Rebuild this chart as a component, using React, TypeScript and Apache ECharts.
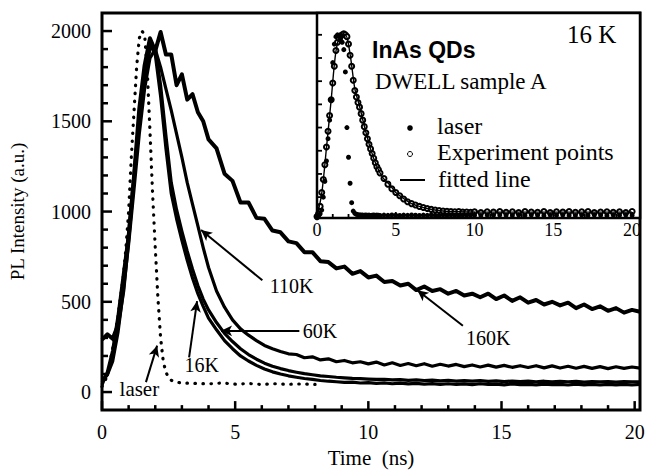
import { useEffect, useRef } from "react";
import * as echarts from "echarts";

// ---------- main panel data (time in ns, PL intensity in a.u.) ----------
const T_MAIN = [
  0, 0.2, 0.4, 0.6, 0.8, 1.0, 1.2, 1.4, 1.6, 1.8, 2.0, 2.2, 2.4, 2.6, 2.8, 3.0, 3.2, 3.4, 3.6, 3.8, 4.0,
  4.3, 4.6, 4.9, 5.2, 5.5, 5.8, 6.1, 6.4, 6.7, 7.0,
  7.3, 7.6, 7.9, 8.2, 8.5, 8.8, 9.1, 9.4, 9.7, 10.0,
  10.3, 10.6, 10.9, 11.2, 11.5, 11.8, 12.1, 12.4, 12.7, 13.0,
  13.3, 13.6, 13.9, 14.2, 14.5, 14.8, 15.1, 15.4, 15.7, 16.0,
  16.3, 16.6, 16.9, 17.2, 17.5, 17.8, 18.1, 18.4, 18.7, 19.0,
  19.3, 19.6, 19.9, 20.2,
];

const PL_16K = [
  40, 110, 230, 420, 650, 880, 1200, 1520, 1760, 1930, 1870, 1640, 1350, 1100, 960, 840, 730, 630, 545, 475, 410,
  345, 285, 240, 200, 172, 148, 128, 112, 100, 90,
  82, 75, 70, 64, 60, 57, 54, 55, 50, 52,
  48, 51, 46, 49, 45, 48, 44, 47, 43, 46,
  42, 45, 41, 46, 42, 44, 40, 45, 41, 43,
  40, 44, 41, 43, 39, 44, 40, 42, 39, 43,
  40, 43, 39, 42,
];

const PL_60K = [
  55, 95, 200, 390, 620, 860, 1170, 1490, 1740, 1900, 1910, 1700, 1420, 1160, 1010, 890, 780, 680, 590, 515, 455,
  385, 325, 280, 240, 208, 182, 160, 143, 130, 119,
  110, 102, 96, 90, 86, 82, 79, 76, 74, 72,
  70, 71, 67, 69, 65, 67, 64, 66, 62, 65,
  61, 63, 60, 63, 59, 62, 58, 61, 58, 60,
  57, 60, 56, 59, 57, 59, 55, 58, 56, 58,
  55, 58, 56, 57,
];

const PL_110K = [
  70, 95, 170, 330, 560, 820, 1120, 1430, 1680, 1850, 1900, 1800, 1680, 1560, 1430, 1300, 1160, 1040, 920, 800, 690,
  560, 470, 400, 350, 315, 285, 258, 240, 225, 212,
  208, 190, 195, 178, 184, 168, 175, 162, 168, 156,
  166, 150, 162, 147, 158, 146, 157, 143, 154, 144,
  153, 141, 150, 139, 149, 138, 148, 137, 146, 136,
  146, 134, 145, 133, 143, 132, 142, 131, 141, 130,
  140, 131, 139, 133,
];

const PL_160K = [
  290, 320, 295, 370, 560, 860, 1190, 1570, 1810, 1960, 1890, 1995, 1870, 1870, 1700, 1760, 1620, 1650, 1550, 1500, 1400,
  1350, 1210, 1170, 1050, 1050, 965, 960, 895, 885, 835,
  825, 775, 775, 725, 720, 685, 695, 655, 670, 635,
  645, 610, 615, 590, 600, 565, 585, 560, 570, 545,
  560, 535, 545, 525, 545, 515, 535, 505, 525, 495,
  510, 485, 500, 480, 495, 465, 485, 460, 475, 450,
  465, 440, 455, 445,
];

const T_LASER = [
  0, 0.2, 0.4, 0.6, 0.8, 0.9, 1.0, 1.1, 1.2, 1.3, 1.4, 1.5, 1.6, 1.7, 1.8, 1.9, 2.0, 2.1, 2.2, 2.3, 2.4, 2.5, 2.6,
  2.8, 3.0, 3.5, 4.0, 4.5, 5.0, 5.5, 6.0, 6.5, 7.0, 7.5, 8.0,
];
const PL_LASER = [
  30, 90, 240, 420, 640, 800, 1000, 1300, 1550, 1800, 1960, 2000, 1980, 1780, 1450, 1100, 800, 520, 300, 170, 110, 80, 65,
  55, 50, 48, 45, 50, 44, 47, 42, 46, 43, 45, 42,
];

// ---------- inset data (16 K, DWELL sample A) ----------
const T_INSET = [
  0, 0.1, 0.2, 0.3, 0.4, 0.5, 0.6, 0.7, 0.8, 0.9, 1.0, 1.1, 1.2, 1.3, 1.4, 1.5, 1.6, 1.7, 1.8, 1.9, 2.0,
  2.1, 2.2, 2.3, 2.4, 2.5, 2.6, 2.7, 2.8, 2.9, 3.0, 3.1, 3.2, 3.3, 3.4, 3.5, 3.6, 3.7, 3.8, 3.9, 4.0,
  4.25, 4.5, 4.75, 5.0, 5.25, 5.5, 5.75, 6.0, 6.25, 6.5, 6.75, 7.0, 7.25, 7.5, 7.75, 8.0,
  8.25, 8.5, 8.75, 9.0, 9.25, 9.5, 9.75, 10.0,
  10.4, 10.8, 11.2, 11.6, 12.0, 12.4, 12.8, 13.2, 13.6, 14.0, 14.4, 14.8, 15.2, 15.6, 16.0,
  16.4, 16.8, 17.2, 17.6, 18.0, 18.4, 18.8, 19.2, 19.6, 20.0,
];
const INSET_LASER = [
  40, 50, 70, 110, 250, 420, 640, 880, 1080, 1300, 1700, 1900, 1980, 2000, 1990, 1960, 1920, 1840, 1600, 1000, 680,
  400, 190, 100, 75, 65, 60, 58, 57, 56, 55, 57, 54, 56, 53, 55, 57, 54, 56, 55, 53,
  56, 54, 57, 55, 53, 56, 54, 57, 55, 53, 56, 54, 57, 55, 53, 56,
  54, 57, 55, 53, 56, 54, 57, 55,
  53, 56, 54, 57, 55, 53, 56, 54, 57, 55, 53, 56, 54, 57, 55,
  53, 56, 54, 57, 55, 53, 56, 54, 57, 55,
];
const INSET_EXP = [
  40, 70, 150, 300, 440, 600, 790, 960, 1130, 1300, 1480, 1660, 1830, 1920, 1960, 1990, 2000, 2010, 2000, 1980, 1900,
  1780, 1660, 1510, 1400, 1330, 1270, 1220, 1150, 1080, 1010, 944, 880, 820, 770, 720, 670, 620, 578, 545, 510,
  450, 390, 340, 300, 265, 230, 200, 180, 165, 150, 138, 128, 118, 112, 106, 100,
  98, 95, 92, 94, 88, 90, 86, 92,
  85, 93, 88, 95, 86, 91, 84, 94, 89, 87, 95, 85, 92, 88, 94,
  86, 91, 95, 84, 90, 93, 87, 92, 85, 96,
];
const T_FIT = [0, 0.3, 0.6, 0.9, 1.2, 1.5, 1.8, 2.1, 2.4, 2.7, 3.0, 3.4, 3.8, 4.2, 4.6, 5.0, 5.5, 6, 6.5, 7, 8, 9, 10, 12, 14, 16, 18, 20];
const INSET_FIT = [40, 290, 780, 1300, 1820, 1990, 2000, 1790, 1420, 1230, 1020, 770, 580, 455, 385, 300, 235, 180, 150, 128, 100, 92, 90, 88, 88, 88, 88, 88];

// ---------- axes ----------
const MAIN_X_TICKS = [0, 1, 2, 3, 4, 5, 6, 7, 8, 9, 10, 11, 12, 13, 14, 15, 16, 17, 18, 19, 20];
const MAIN_Y_TICKS = [0, 100, 200, 300, 400, 500, 600, 700, 800, 900, 1000, 1100, 1200, 1300, 1400, 1500, 1600, 1700, 1800, 1900, 2000];
const INSET_X_TICKS = MAIN_X_TICKS;
const INSET_Y_TICKS = [250, 500, 750, 1000, 1250, 1500, 1750, 2000];

// ---------- annotations ----------
const ANNOT_LABELS = [
  { text: "110K", at: [6.28, 586] },
  { text: "60K", at: [7.52, 339] },
  { text: "16K", at: [3.08, 150] },
  { text: "laser", at: [0.64, 18] },
  { text: "160K", at: [13.65, 301] },
];
const ANNOT_ARROWS = [
  { from: [6.02, 619], to: [3.72, 898] },
  { from: [7.41, 339], to: [4.47, 339] },
  { from: [3.27, 192], to: [3.57, 504] },
  { from: [1.65, 55], to: [2.07, 257] },
  { from: [13.55, 367], to: [11.84, 564] },
];

const SERIF = "Liberation Serif";
const SANS = "Liberation Sans";

const MAIN_X_MIN = 0, MAIN_X_MAX = 20.2, MAIN_Y_MIN = -100, MAIN_Y_MAX = 2100;
const INSET_X_MIN = 0, INSET_X_MAX = 20.5, INSET_Y_MIN = 25, INSET_Y_MAX = 2235;

const pairs = (t: number[], v: number[]) => t.map((x, i) => [x, v[i]]);

function tickSeries(xIdx: number, yIdx: number, data: number[][], vertical: boolean, major: number, minor: number, width: number) {
  return {
    type: "custom",
    xAxisIndex: xIdx,
    yAxisIndex: yIdx,
    silent: true,
    z: 5,
    data,
    renderItem: (_p: any, api: any) => {
      const p = api.coord([api.value(0), api.value(1)]);
      const len = api.value(2) ? major : minor;
      return {
        type: "line",
        shape: vertical
          ? { x1: p[0], y1: p[1], x2: p[0], y2: p[1] - len }
          : { x1: p[0], y1: p[1], x2: p[0] + len, y2: p[1] },
        style: { stroke: "#000", lineWidth: width },
      };
    },
  };
}

const isMultiple = (v: number, m: number) => Math.abs(v / m - Math.round(v / m)) < 1e-6;

function buildOption() {
  const solid = (name: string, v: number[], w: number) => ({
    name,
    type: "line",
    xAxisIndex: 0,
    yAxisIndex: 0,
    data: pairs(T_MAIN, v),
    showSymbol: false,
    symbol: "none",
    lineStyle: { color: "#000", width: w, join: "round" },
    z: 3,
  });

  return {
    animation: false,
    backgroundColor: "#fff",
    textStyle: { fontFamily: SERIF, color: "#000" },
    grid: [
      { left: 102, top: 13, width: 538, height: 402, show: true, borderColor: "#000", borderWidth: 3, backgroundColor: "transparent" },
      { left: 317, top: 13, width: 323, height: 205, show: true, borderColor: "#000", borderWidth: 2.5, backgroundColor: "#fff" },
    ],
    xAxis: [
      {
        gridIndex: 0, type: "value", min: MAIN_X_MIN, max: MAIN_X_MAX, interval: 1,
        axisLine: { show: false }, axisTick: { show: false }, splitLine: { show: false },
        axisLabel: {
          margin: 12, fontSize: 20, fontFamily: SERIF, color: "#000",
          formatter: (v: number) => (isMultiple(v, 5) && v <= 20 ? String(Math.round(v)) : ""),
        },
        name: "Time\u00a0\u00a0(ns)", nameLocation: "middle", nameGap: 34,
        nameTextStyle: { fontSize: 21, fontFamily: SERIF, color: "#000" },
      },
      {
        gridIndex: 1, type: "value", min: INSET_X_MIN, max: INSET_X_MAX, interval: 1,
        axisLine: { show: false }, axisTick: { show: false }, splitLine: { show: false },
        axisLabel: {
          margin: 3, fontSize: 18, fontFamily: SERIF, color: "#000",
          formatter: (v: number) => (isMultiple(v, 5) && v <= 20 ? String(Math.round(v)) : ""),
        },
      },
    ],
    yAxis: [
      {
        gridIndex: 0, type: "value", min: MAIN_Y_MIN, max: MAIN_Y_MAX, interval: 100,
        axisLine: { show: false }, axisTick: { show: false }, splitLine: { show: false },
        axisLabel: {
          margin: 11, fontSize: 20, fontFamily: SERIF, color: "#000",
          formatter: (v: number) => (v >= 0 && isMultiple(v, 500) ? String(Math.round(v)) : ""),
        },
        name: "PL Intensity (a.u.)", nameLocation: "middle", nameGap: 75,
        nameTextStyle: { fontSize: 19, fontFamily: SERIF, color: "#000" },
      },
      {
        gridIndex: 1, type: "value", min: INSET_Y_MIN, max: INSET_Y_MAX,
        axisLine: { show: false }, axisTick: { show: false }, splitLine: { show: false },
        axisLabel: { show: false },
      },
    ],
    series: [
      {
        name: "laser",
        type: "line",
        xAxisIndex: 0,
        yAxisIndex: 0,
        data: pairs(T_LASER, PL_LASER),
        showSymbol: false,
        symbol: "none",
        lineStyle: { color: "#000", width: 3.2, type: [0.5, 7.5], cap: "round" },
        z: 3,
      },
      solid("16K", PL_16K, 3.2),
      solid("60K", PL_60K, 3.2),
      solid("110K", PL_110K, 3.2),
      {
        ...solid("160K", PL_160K, 4),
        markLine: {
          silent: true,
          symbol: ["none", "arrow"],
          symbolSize: [8, 11],
          label: { show: false },
          lineStyle: { color: "#000", width: 2, type: "solid" },
          data: ANNOT_ARROWS.map((a) => [
            { coord: a.from, symbol: "none" },
            { coord: a.to, symbol: "arrow" },
          ]),
        },
        markPoint: {
          silent: true,
          symbol: "rect",
          symbolSize: 1,
          itemStyle: { color: "rgba(0,0,0,0)" },
          label: { show: true, position: "right", distance: 0, color: "#000", fontSize: 20, fontFamily: SERIF },
          data: ANNOT_LABELS.map((l) => ({
            coord: l.at,
            name: l.text,
            label: { formatter: l.text, fontSize: l.text === "laser" ? 21 : 20 },
          })),
        },
      },
      // inset
      {
        name: "Experiment points",
        type: "scatter",
        xAxisIndex: 1,
        yAxisIndex: 1,
        data: pairs(T_INSET, INSET_EXP),
        symbol: "emptyCircle",
        symbolSize: 5,
        itemStyle: { color: "#000", borderColor: "#000", borderWidth: 1, opacity: 1 },
        z: 3,
      },
      {
        name: "inset laser",
        type: "scatter",
        xAxisIndex: 1,
        yAxisIndex: 1,
        data: pairs(T_INSET, INSET_LASER),
        symbol: "circle",
        symbolSize: 5,
        itemStyle: { color: "#000", opacity: 1 },
        z: 3,
      },
      {
        name: "fitted line",
        type: "line",
        xAxisIndex: 1,
        yAxisIndex: 1,
        data: pairs(T_FIT, INSET_FIT),
        smooth: 0.3,
        showSymbol: false,
        symbol: "none",
        lineStyle: { color: "#000", width: 1.4 },
        z: 4,
      },
      tickSeries(0, 0, MAIN_X_TICKS.map((v) => [v, MAIN_Y_MIN, isMultiple(v, 5) ? 1 : 0]), true, 9, 5, 2.5),
      tickSeries(0, 0, MAIN_Y_TICKS.map((v) => [MAIN_X_MIN, v, isMultiple(v, 500) ? 1 : 0]), false, 10, 6, 2.5),
      tickSeries(1, 1, INSET_X_TICKS.map((v) => [v, INSET_Y_MIN, isMultiple(v, 5) ? 1 : 0]), true, 6, 4, 1.8),
      tickSeries(1, 1, INSET_Y_TICKS.map((v) => [INSET_X_MIN, v, 0]), false, 5, 5, 1.8),
    ],
    graphic: [
      { type: "text", left: 567, top: 22, z: 10, style: { text: "16 K", font: `25px ${SERIF}`, fill: "#000" } },
      { type: "text", left: 372, top: 38, z: 10, style: { text: "InAs QDs", font: `bold 23px ${SANS}`, fill: "#000" } },
      { type: "text", left: 375, top: 70, z: 10, style: { text: "DWELL sample A", font: `23px ${SERIF}`, fill: "#000" } },
      { type: "circle", z: 10, shape: { cx: 410, cy: 128, r: 2.8 }, style: { fill: "#000" } },
      { type: "text", left: 437, top: 114, z: 10, style: { text: "laser", font: `24px ${SERIF}`, fill: "#000" } },
      { type: "circle", z: 10, shape: { cx: 410, cy: 154, r: 2.5 }, style: { fill: "#fff", stroke: "#000", lineWidth: 1 } },
      { type: "text", left: 437, top: 140, z: 10, style: { text: "Experiment points", font: `24px ${SERIF}`, fill: "#000" } },
      { type: "line", z: 10, shape: { x1: 400, y1: 180, x2: 425, y2: 180 }, style: { stroke: "#000", lineWidth: 2 } },
      { type: "text", left: 438, top: 167, z: 10, style: { text: "fitted line", font: `24px ${SERIF}`, fill: "#000" } },
    ],
  };
}

export default function App() {
  const ref = useRef<HTMLDivElement>(null);
  useEffect(() => {
    if (!ref.current) return;
    const chart = echarts.init(ref.current, null, { renderer: "svg" });
    chart.setOption(buildOption() as any);
    return () => chart.dispose();
  }, []);
  return (
    <div
      ref={ref}
      style={{ position: "fixed", left: 0, top: 0, width: 652, height: 473, background: "#fff" }}
    />
  );
}
